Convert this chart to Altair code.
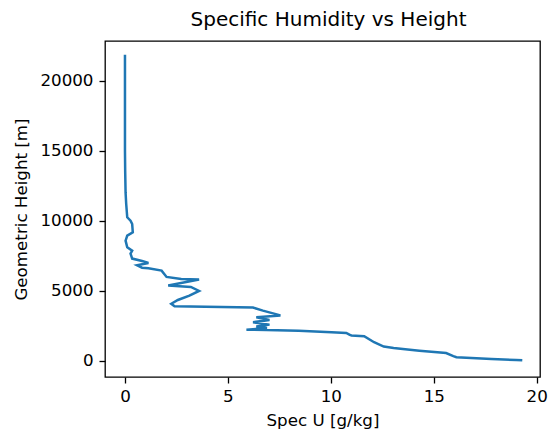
import altair as alt
import pandas as pd

# Sounding profile, surface to top
spec_u = [19.3, 19.0, 17.8, 16.1, 15.95, 15.6, 14.3, 13.5, 13.05, 12.57,
          12.1, 11.62, 11.0, 10.9, 10.75, 10.03, 8.44, 6.86, 5.9, 6.9,
          6.38, 7.02, 6.22, 7.02, 6.38, 7.55, 6.7, 6.22, 2.41, 2.25,
          2.57, 3.13, 3.6, 3.2, 2.1, 3.6, 2.73, 2.02, 1.78, 1.14,
          0.83, 0.59, 1.14, 0.83, 0.35, 0.27, 0.35, 0.11, 0.03, 0.11,
          0.38, 0.35, 0.27, 0.11, 0.06, 0.03, 0.01, 0.0, 0.0]
height_m = [20, 40, 120, 240, 320, 540, 710, 830, 900, 1000,
            1310, 1740, 1800, 1850, 1980, 2020, 2140, 2190, 2210, 2330,
            2430, 2570, 2740, 2900, 3090, 3230, 3570, 3790, 3890, 4060,
            4330, 4640, 4980, 5260, 5360, 5790, 5830, 5980, 6430, 6600,
            6640, 6810, 6980, 7120, 7290, 7650, 7860, 8100, 8570, 8930,
            9170, 9760, 10000, 10240, 11190, 12000, 13570, 15000, 21850]

x_ticks = [0, 5, 10, 15, 20]
y_ticks = [0, 5000, 10000, 15000, 20000]

df = pd.DataFrame({"i": list(range(len(spec_u))), "q": spec_u, "h": height_m})

font = "DejaVu Sans"
fs = 16.7

chart = alt.Chart(df).mark_line(color="#1f77b4", strokeWidth=2.5).encode(
    x=alt.X("q:Q",
            scale=alt.Scale(domain=[-0.97, 20.16], nice=False, zero=False),
            axis=alt.Axis(values=x_ticks, title="Spec U [g/kg]", format="d",
                          grid=False, domain=False, tickColor="black",
                          tickSize=6, tickWidth=1.3, labelPadding=5,
                          labelFont=font, labelFontSize=fs, labelColor="black",
                          titleFont=font, titleFontSize=fs, titleColor="black",
                          titleFontWeight="normal", titleY=43, titleBaseline="middle")),
    y=alt.Y("h:Q",
            scale=alt.Scale(domain=[-1173, 22840], nice=False, zero=False),
            axis=alt.Axis(values=y_ticks, title="Geometric Height [m]", format="d",
                          grid=False, domain=False, tickColor="black",
                          tickSize=6, tickWidth=1.3, labelPadding=6,
                          labelFont=font, labelFontSize=fs, labelColor="black",
                          titleFont=font, titleFontSize=fs, titleColor="black",
                          titleFontWeight="normal", titleX=-84, titleY=168,
                          titleAngle=270, titleAlign="center", titleBaseline="middle")),
    order=alt.Order("i:Q"),
).properties(
    width=435,
    height=336,
    title=alt.Title("Specific Humidity vs Height", font=font, fontSize=20,
                    fontWeight="normal", color="black", anchor="middle",
                    frame="group", baseline="alphabetic", offset=0, dx=6, dy=5),
    autosize=alt.AutoSizeParams(type="none"),
    padding={"left": 97, "top": 33, "right": 8, "bottom": 58},
).configure_view(stroke="black", strokeWidth=1.3)

chart.save("out.html", embed_options={"renderer": "svg", "actions": False})
